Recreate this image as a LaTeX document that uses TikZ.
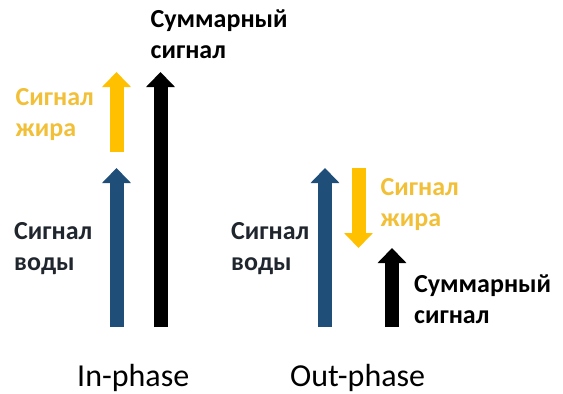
\documentclass[tikz,border=0pt]{standalone}
\usepackage{fontspec}
\setmainfont{Carlito}
\usetikzlibrary{arrows.meta}
\definecolor{wblue}{HTML}{1F4E79}
\definecolor{fyel}{HTML}{FFC000}
\definecolor{fyeltxt}{HTML}{F2C038}
\definecolor{dtxt}{HTML}{20262E}
\tikzset{
  vec/.style={line width=14pt,-{Triangle[width=28pt,length=15pt]}},
  lbl/.style={anchor=north west,inner sep=0pt,align=left,font=\bfseries\fontsize{26}{31}\selectfont},
  ttl/.style={anchor=north west,inner sep=0pt,font=\fontsize{32}{36}\selectfont,text=black}
}
\begin{document}
\begin{tikzpicture}[x=1pt,y=-1pt]
\useasboundingbox (0,0) rectangle (563,394);
% in-phase
\coordinate (wb1) at (116.5,327); \coordinate (wt1) at (116.5,168);
\coordinate (fb1) at (116.5,152); \coordinate (ft1) at (116.5,72);
\coordinate (sb1) at (160.5,327); \coordinate (st1) at (160.5,72);
\draw[vec,wblue] (wb1) -- (wt1);
\draw[vec,fyel] (fb1) -- (ft1);
\draw[vec,black] (sb1) -- (st1);
% out-phase
\coordinate (wb2) at (325,327); \coordinate (wt2) at (325,168);
\coordinate (fb2) at (358.5,168); \coordinate (ft2) at (358.5,248);
\coordinate (sb2) at (392,327); \coordinate (st2) at (392,248);
\draw[vec,wblue] (wb2) -- (wt2);
\draw[vec,fyel] (fb2) -- (ft2);
\draw[vec,black] (sb2) -- (st2);
% labels
\node[lbl,text=black] (sum1) at (150.5,9.5) {Суммарный\\сигнал};
\node[lbl,text=fyeltxt] (fat1) at (15.5,88.3) {Сигнал\\жира};
\node[lbl,text=dtxt] (wat1) at (14,222.7) {Сигнал\\воды};
\node[lbl,text=dtxt] (wat2) at (231,222.7) {Сигнал\\воды};
\node[lbl,text=fyeltxt] (fat2) at (380.5,178.3) {Сигнал\\жира};
\node[lbl,text=black] (sum2) at (414,275) {Суммарный\\сигнал};
\node[ttl] (inp) at (77,364) {In-phase};
\node[ttl] (outp) at (290,364) {Out-phase};
\end{tikzpicture}
\end{document}
